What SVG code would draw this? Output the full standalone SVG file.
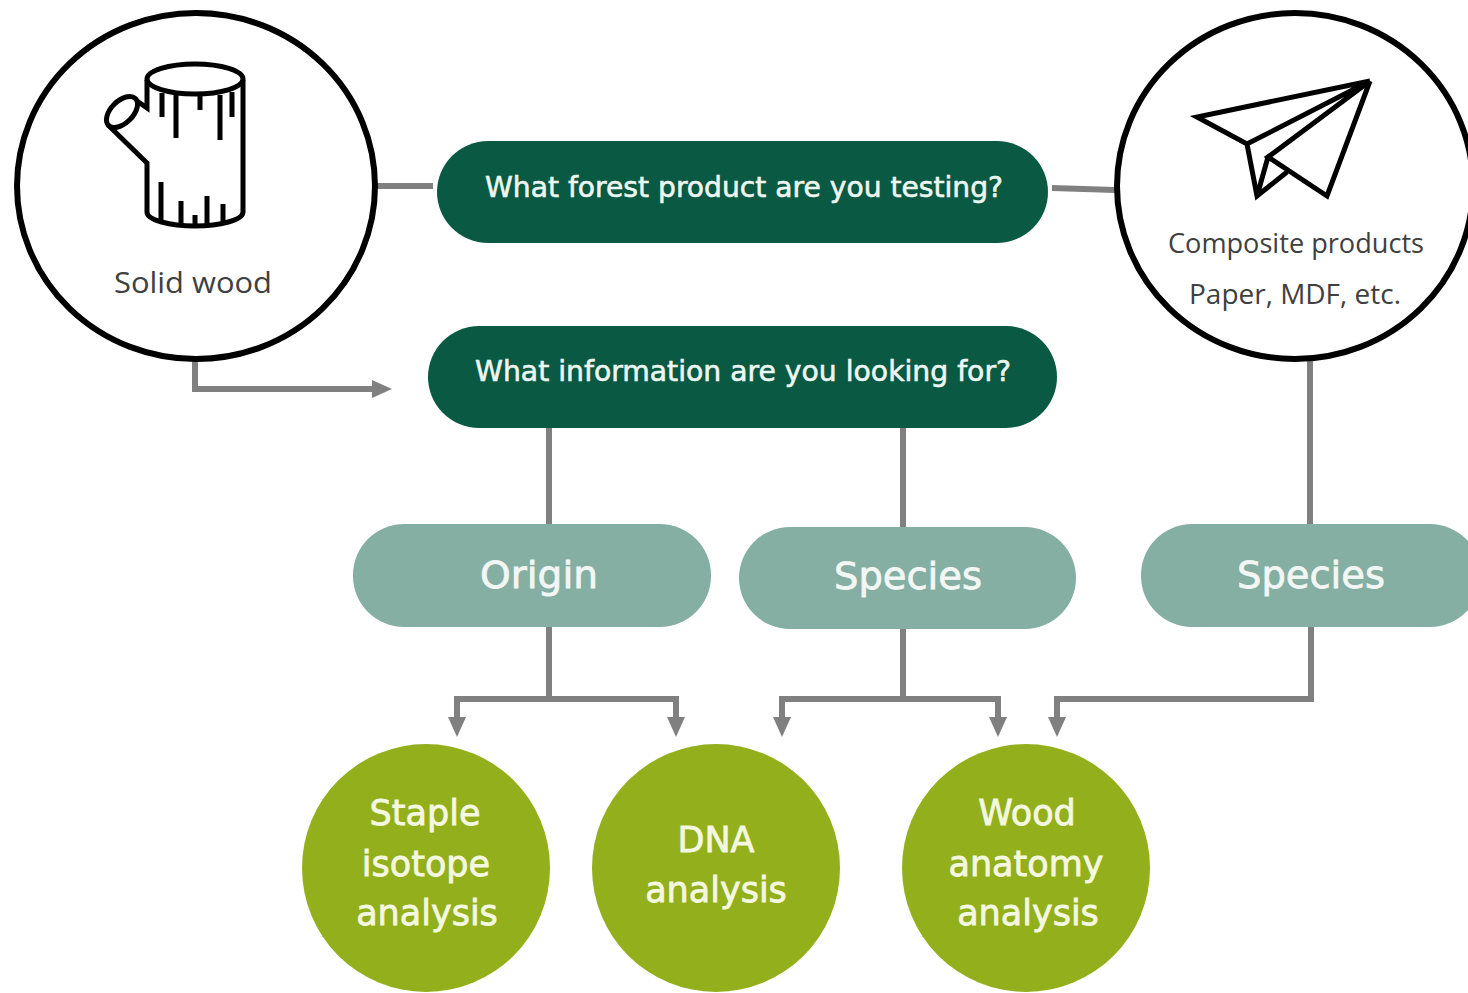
<svg xmlns="http://www.w3.org/2000/svg" width="1468" height="993" viewBox="0 0 1468 993">
<style>
.conn{fill:none;stroke:#808080;stroke-width:6}
.ring{fill:#fff;stroke:#000;stroke-width:6}
.icon{fill:none;stroke:#000;stroke-width:5;stroke-linejoin:miter}
.dark{fill:#0a5a43}
.mid{fill:#84afa2}
.lime{fill:#93b01c}
text{font-family:"Open Sans","Noto Sans","Liberation Sans",sans-serif;text-anchor:middle}
.lab{fill:#404040;font-size:30px}
.lab2{fill:#404040;font-size:27px}
.q{fill:#eef6f1;stroke:#eef6f1;stroke-width:.6;font-size:28px;font-family:"DejaVu Sans","Liberation Sans",sans-serif}
.m{fill:#f2f6f4;stroke:#f2f6f4;stroke-width:.8;font-size:38px;font-family:"DejaVu Sans","Liberation Sans",sans-serif}
.g{fill:#f4f8e0;stroke:#f4f8e0;stroke-width:.8;font-size:35px;font-family:"DejaVu Sans","Liberation Sans",sans-serif}
</style>
<defs>
<marker id="arr" markerUnits="userSpaceOnUse" markerWidth="22" markerHeight="18" refX="2" refY="9" orient="auto"><path d="M0 0L20 9L0 18Z" fill="#808080"/></marker>
</defs>
<g id="connectors">
<path class="conn" d="M377 186H433"/>
<path class="conn" d="M1052 188L1115 190"/>
<path class="conn" marker-end="url(#arr)" d="M195 360V389H374"/>
<path class="conn" d="M549 428V525"/>
<path class="conn" d="M903 428V528"/>
<path class="conn" d="M1310 358V525"/>
<path class="conn" d="M549 626V699"/>
<path class="conn" marker-end="url(#arr)" d="M549 699H457V719"/>
<path class="conn" marker-end="url(#arr)" d="M549 699H676V719"/>
<path class="conn" d="M903 628V699"/>
<path class="conn" marker-end="url(#arr)" d="M903 699H782V719"/>
<path class="conn" marker-end="url(#arr)" d="M903 699H998V719"/>
<path class="conn" marker-end="url(#arr)" d="M1311 626V699H1057V719"/>
</g>
<g id="solid-wood">
<ellipse class="ring" cx="196" cy="186" rx="179" ry="173"/>
<g class="icon">
<ellipse cx="195" cy="79" rx="48" ry="15"/>
<path d="M147 80V108L137 101M243 80V212C243 220 220 226 195 226C170 226 147 220 147 212V163L108 125"/>
<ellipse cx="122" cy="112" rx="19" ry="11" transform="rotate(-45 122 112)"/>
<path d="M162 93V117M176 95V138M200 96V110M220 95V140M232 92V117M161 182V222M181 201V224M195 215V225M207 196V224M223 204V222"/>
</g>
<text class="lab" x="193" y="293" textLength="158" lengthAdjust="spacingAndGlyphs">Solid wood</text>
</g>
<g id="composite-products">
<ellipse class="ring" cx="1295" cy="186" rx="178" ry="173"/>
<path class="icon" d="M1370 81L1197 117L1247 144L1370 81L1268 157L1327 196L1370 81M1247 144L1257 196L1287 172M1268 157L1257 196"/>
<text class="lab2" x="1296" y="253" textLength="256" lengthAdjust="spacingAndGlyphs">Composite products</text>
<text class="lab2" x="1295" y="304" textLength="212" lengthAdjust="spacingAndGlyphs">Paper, MDF, etc.</text>
</g>
<g id="q-product">
<rect class="dark" x="437" y="141" width="611" height="102" rx="51"/>
<text class="q" x="744" y="197" textLength="518" lengthAdjust="spacingAndGlyphs">What forest product are you testing?</text>
</g>
<g id="q-info">
<rect class="dark" x="428" y="326" width="629" height="102" rx="51"/>
<text class="q" x="743" y="381" textLength="536" lengthAdjust="spacingAndGlyphs">What information are you looking for?</text>
</g>
<g id="origin">
<rect class="mid" x="353" y="524" width="358" height="103" rx="51"/>
<text class="m" x="539" y="588" textLength="118" lengthAdjust="spacingAndGlyphs">Origin</text>
</g>
<g id="species-1">
<rect class="mid" x="739" y="527" width="337" height="102" rx="51"/>
<text class="m" x="908" y="589" textLength="148" lengthAdjust="spacingAndGlyphs">Species</text>
</g>
<g id="species-2">
<rect class="mid" x="1141" y="524" width="340" height="103" rx="51"/>
<text class="m" x="1311" y="588" textLength="148" lengthAdjust="spacingAndGlyphs">Species</text>
</g>
<g id="staple">
<circle class="lime" cx="426" cy="868" r="124"/>
<text class="g" x="425" y="825">Staple</text>
<text class="g" x="426" y="876">isotope</text>
<text class="g" x="427" y="925">analysis</text>
</g>
<g id="dna">
<circle class="lime" cx="716" cy="868" r="124"/>
<text class="g" x="716" y="852">DNA</text>
<text class="g" x="716" y="902">analysis</text>
</g>
<g id="wood-anatomy">
<circle class="lime" cx="1026" cy="868" r="124"/>
<text class="g" x="1027" y="825">Wood</text>
<text class="g" x="1026" y="876">anatomy</text>
<text class="g" x="1028" y="925">analysis</text>
</g>
</svg>
